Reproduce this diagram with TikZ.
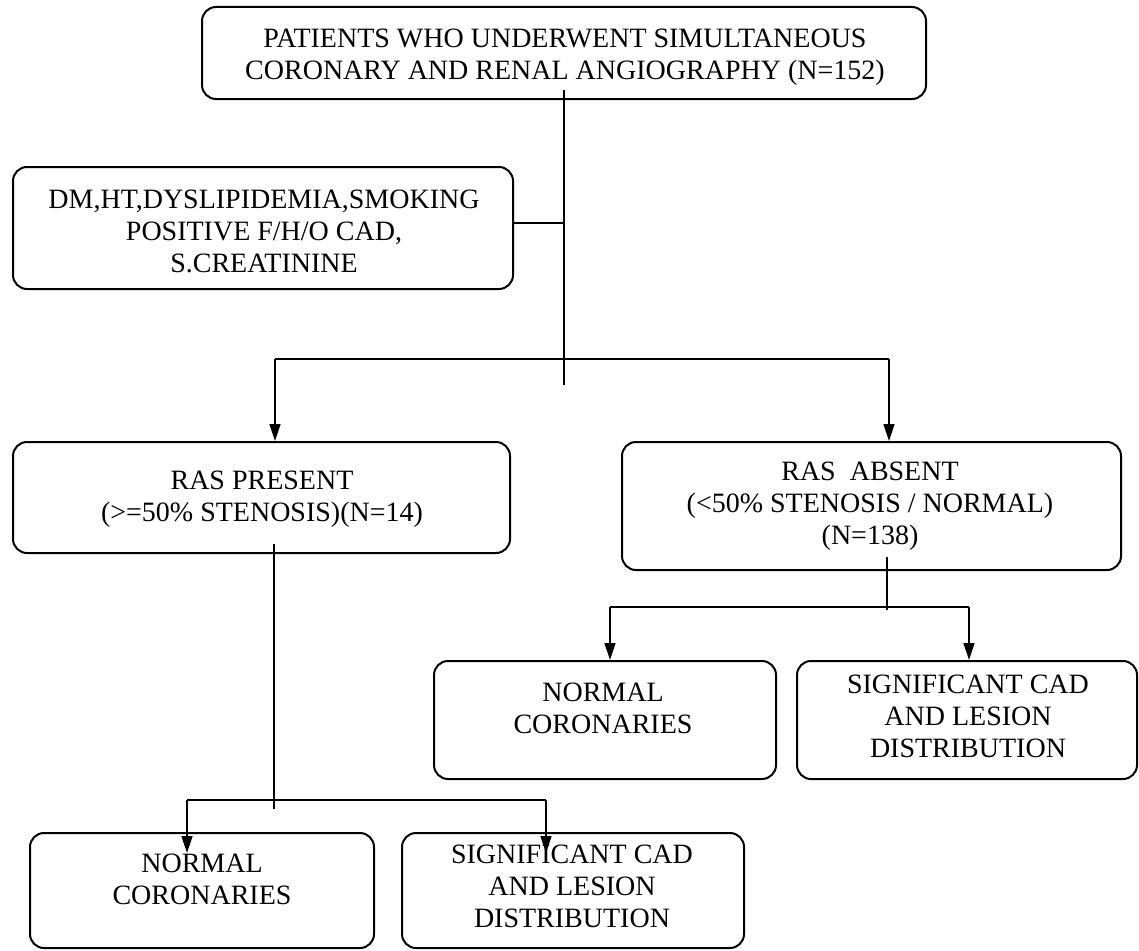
\documentclass[tikz,border=0pt]{standalone}
\usepackage{fontspec}
\setmainfont{Liberation Serif}
\usetikzlibrary{arrows.meta}
\begin{document}
\begin{tikzpicture}[x=1pt,y=-1pt,
  box/.style={draw, line width=2pt, rounded corners=14pt, inner sep=0pt},
  txt/.style={align=center, font=\fontsize{28}{32}\selectfont, inner sep=0pt},
  conn/.style={line width=1.5pt},
  arr/.style={line width=1.5pt, -{Triangle[length=17pt,width=11pt]}}]
\useasboundingbox (0,0) rectangle (1139,950);
% boxes
\node[box, minimum width=724pt, minimum height=92pt]  (top)  at (564,53) {};
\node[box, minimum width=500pt, minimum height=122pt] (dm)   at (263,228) {};
\node[box, minimum width=497pt, minimum height=111pt] (pres) at (261.5,497.5) {};
\node[box, minimum width=499pt, minimum height=128pt] (abs)  at (871.5,506) {};
\node[box, minimum width=342pt, minimum height=118pt] (nr)   at (605,720) {};
\node[box, minimum width=340pt, minimum height=118pt] (sr)   at (967,720) {};
\node[box, minimum width=344pt, minimum height=115pt] (nl)   at (202,890.5) {};
\node[box, minimum width=342pt, minimum height=115pt] (sl)   at (573,890.5) {};
% texts
\node[txt] (toptxt)  at (565,57)  {PATIENTS WHO UNDERWENT SIMULTANEOUS\\CORONARY AND RENAL ANGIOGRAPHY (N=152)};
\node[txt] (dmtxt)   at (264,231) {DM,HT,DYSLIPIDEMIA,SMOKING\\POSITIVE F/H/O CAD,\\S.CREATININE};
\node[txt] (prestxt) at (262,499) {RAS PRESENT\\(>=50\% STENOSIS)(N=14)};
\node[txt] (abstxt)  at (870,506) {RAS\ \ ABSENT\\(<50\% STENOSIS / NORMAL)\\(N=138)};
\node[txt] (nrtxt)   at (603,708) {NORMAL\\CORONARIES};
\node[txt] (srtxt)   at (968,716) {SIGNIFICANT CAD\\AND LESION\\DISTRIBUTION};
\node[txt] (nltxt)   at (202,879) {NORMAL\\CORONARIES};
\node[txt] (sltxt)   at (572,886) {SIGNIFICANT CAD\\AND LESION\\DISTRIBUTION};
% trunk
\coordinate (t1) at (564,90);
\coordinate (t2) at (564,385);
\coordinate (hl) at (275,359);
\coordinate (hr) at (889,359);
\draw[conn] (t1) -- (t2);
\draw[conn] ([yshift=5pt]dm.east) -- ([yshift=5pt]dm.east -| t1);
\draw[conn] (hl) -- (hr);
\draw[arr] (hl) -- (hl |- pres.north);
\draw[arr] (hr) -- (hr |- abs.north);
% RAS absent subtree
\coordinate (a1) at (887,557);
\coordinate (a2) at (887,610);
\coordinate (al) at (610,607);
\coordinate (ar) at (969,607);
\draw[conn] (a1) -- (a2);
\draw[conn] (al) -- (ar);
\draw[arr] (al) -- (al |- nr.north);
\draw[arr] (ar) -- (ar |- sr.north);
% RAS present subtree
\coordinate (p1) at (274,544);
\coordinate (p2) at (274,809);
\coordinate (pl) at (187,800);
\coordinate (pr) at (546,800);
\coordinate (plend) at (187,853);
\coordinate (prend) at (546,853);
\draw[conn] (p1) -- (p2);
\draw[conn] (pl) -- (pr);
\draw[arr] (pl) -- (plend);
\draw[arr] (pr) -- (prend);
\end{tikzpicture}
\end{document}
